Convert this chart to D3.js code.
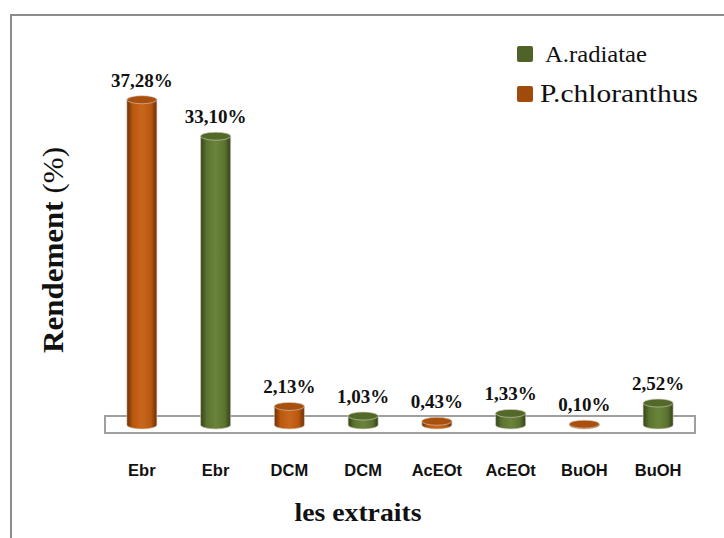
<!DOCTYPE html>
<html>
<head>
<meta charset="utf-8">
<script src="https://cdn.jsdelivr.net/npm/d3@7/dist/d3.min.js"></script>
<style>
  html, body { margin: 0; padding: 0; background: #fff; }
  svg { display: block; }
</style>
</head>
<body>
<svg id="chart" width="724" height="538"></svg>
<script>
// Extraction yields (%) per extract, for each species
const extracts = ["Ebr", "DCM", "AcEOt", "BuOH"];
const species = ["P.chloranthus", "A.radiatae"];
const yieldP = [37.28, 2.13, 0.43, 0.10];
const yieldA = [33.10, 1.03, 1.33, 2.52];
const legendOrder = ["A.radiatae", "P.chloranthus"];

const palette = {
  "P.chloranthus": { dark: "#6e2e05", mid: "#b9580f", light: "#c8661c", top: "#a9500f", key: "#a04a0c" },
  "A.radiatae":    { dark: "#34431a", mid: "#5c7330", light: "#6a843a", top: "#53692a", key: "#4f6228" }
};

// one bar per extract/species pair, in drawing order
const bars = [];
extracts.forEach((e, i) => {
  bars.push({ key: i * 2, extract: e, sp: "P.chloranthus", value: yieldP[i] });
  bars.push({ key: i * 2 + 1, extract: e, sp: "A.radiatae", value: yieldA[i] });
});

const svg = d3.select("#chart");
const serif = "'Liberation Serif', 'DejaVu Serif', serif";

// outer frame
svg.append("rect")
  .attr("x", 11).attr("y", 15).attr("width", 800).attr("height", 600)
  .attr("fill", "#fff").attr("stroke", "#8c8c8c").attr("stroke-width", 2);

const x = d3.scaleBand()
  .domain(bars.map(d => d.key))
  .range([105, 695])
  .paddingInner(0.593)
  .paddingOuter(0.2966);

const y = d3.scaleLinear().domain([0, 40]).range([425, 76]);

const defs = svg.append("defs");
species.forEach(s => {
  const c = palette[s];
  const g = defs.append("linearGradient")
    .attr("id", "cyl-" + s.replace(/\W/g, ""))
    .attr("x1", "0%").attr("x2", "100%").attr("y1", "0%").attr("y2", "0%");
  g.append("stop").attr("offset", "0%").attr("stop-color", c.dark);
  g.append("stop").attr("offset", "20%").attr("stop-color", c.mid);
  g.append("stop").attr("offset", "50%").attr("stop-color", c.light);
  g.append("stop").attr("offset", "80%").attr("stop-color", c.mid);
  g.append("stop").attr("offset", "100%").attr("stop-color", c.dark);
});

// floor of the 3D plot
svg.append("rect")
  .attr("x", 105).attr("y", 416).attr("width", 590).attr("height", 17)
  .attr("fill", "#fff").attr("stroke", "#a0a0a0").attr("stroke-width", 2);

const ry = 4;
const bw = x.bandwidth();
const gBars = svg.append("g");

bars.forEach(d => {
  const x0 = x(d.key), cx = x0 + bw / 2;
  const yt = y(d.value), yb = y(0);
  const fill = "url(#cyl-" + d.sp.replace(/\W/g, "") + ")";
  const c = palette[d.sp];
  const g = gBars.append("g");
  // body: side walls closed by the lower half ellipse
  g.append("path")
    .attr("d", `M${x0},${yt} L${x0},${yb} A${bw / 2},${ry} 0 0 0 ${x0 + bw},${yb} L${x0 + bw},${yt} Z`)
    .attr("fill", fill)
    .attr("stroke", "#d9cfc4").attr("stroke-width", 0.6);
  // top cap
  g.append("ellipse")
    .attr("cx", cx).attr("cy", yt).attr("rx", bw / 2).attr("ry", ry)
    .attr("fill", c.top)
    .attr("stroke", "#d9cfc4").attr("stroke-width", 0.6);

  // value label
  svg.append("text")
    .attr("x", cx).attr("y", yt - 13)
    .attr("text-anchor", "middle")
    .attr("font-family", serif)
    .attr("font-weight", "bold")
    .attr("font-size", 19)
    .attr("fill", "#111")
    .text(d.value.toFixed(2).replace(".", ",") + "%");

  // category label
  svg.append("text")
    .attr("x", cx).attr("y", 476)
    .attr("text-anchor", "middle")
    .attr("font-family", "'Liberation Sans', Arial, sans-serif")
    .attr("font-weight", "bold")
    .attr("font-size", 16.5)
    .attr("fill", "#111")
    .text(d.extract);
});

// axis titles
svg.append("text")
  .attr("x", 358).attr("y", 521)
  .attr("text-anchor", "middle")
  .attr("font-family", serif)
  .attr("font-weight", "bold")
  .attr("font-size", 26)
  .attr("textLength", 127).attr("lengthAdjust", "spacingAndGlyphs")
  .attr("fill", "#111")
  .text("les extraits");

const yTitle = svg.append("text")
  .attr("transform", "translate(63,250) rotate(-90)")
  .attr("text-anchor", "middle")
  .attr("font-family", serif)
  .attr("font-size", 29)
  .attr("textLength", 206).attr("lengthAdjust", "spacingAndGlyphs")
  .attr("fill", "#111");
yTitle.append("tspan").attr("font-weight", "bold").text("Rendement ");
yTitle.append("tspan").attr("font-weight", "normal").text("(%)");

// legend
const legend = svg.append("g");
const legendSpec = [
  { name: "A.radiatae", y: 46, size: 24, len: 102, tx: 545 },
  { name: "P.chloranthus", y: 86, size: 26, len: 158, tx: 540 }
];
legendSpec.forEach(l => {
  legend.append("rect")
    .attr("x", 517).attr("y", l.y).attr("width", 16).attr("height", 16)
    .attr("rx", 2)
    .attr("fill", palette[l.name].key);
  legend.append("text")
    .attr("x", l.tx).attr("y", l.y + 16)
    .attr("font-family", serif)
    .attr("font-size", l.size)
    .attr("textLength", l.len).attr("lengthAdjust", "spacingAndGlyphs")
    .attr("fill", "#111")
    .text(l.name);
});
</script>
</body>
</html>
